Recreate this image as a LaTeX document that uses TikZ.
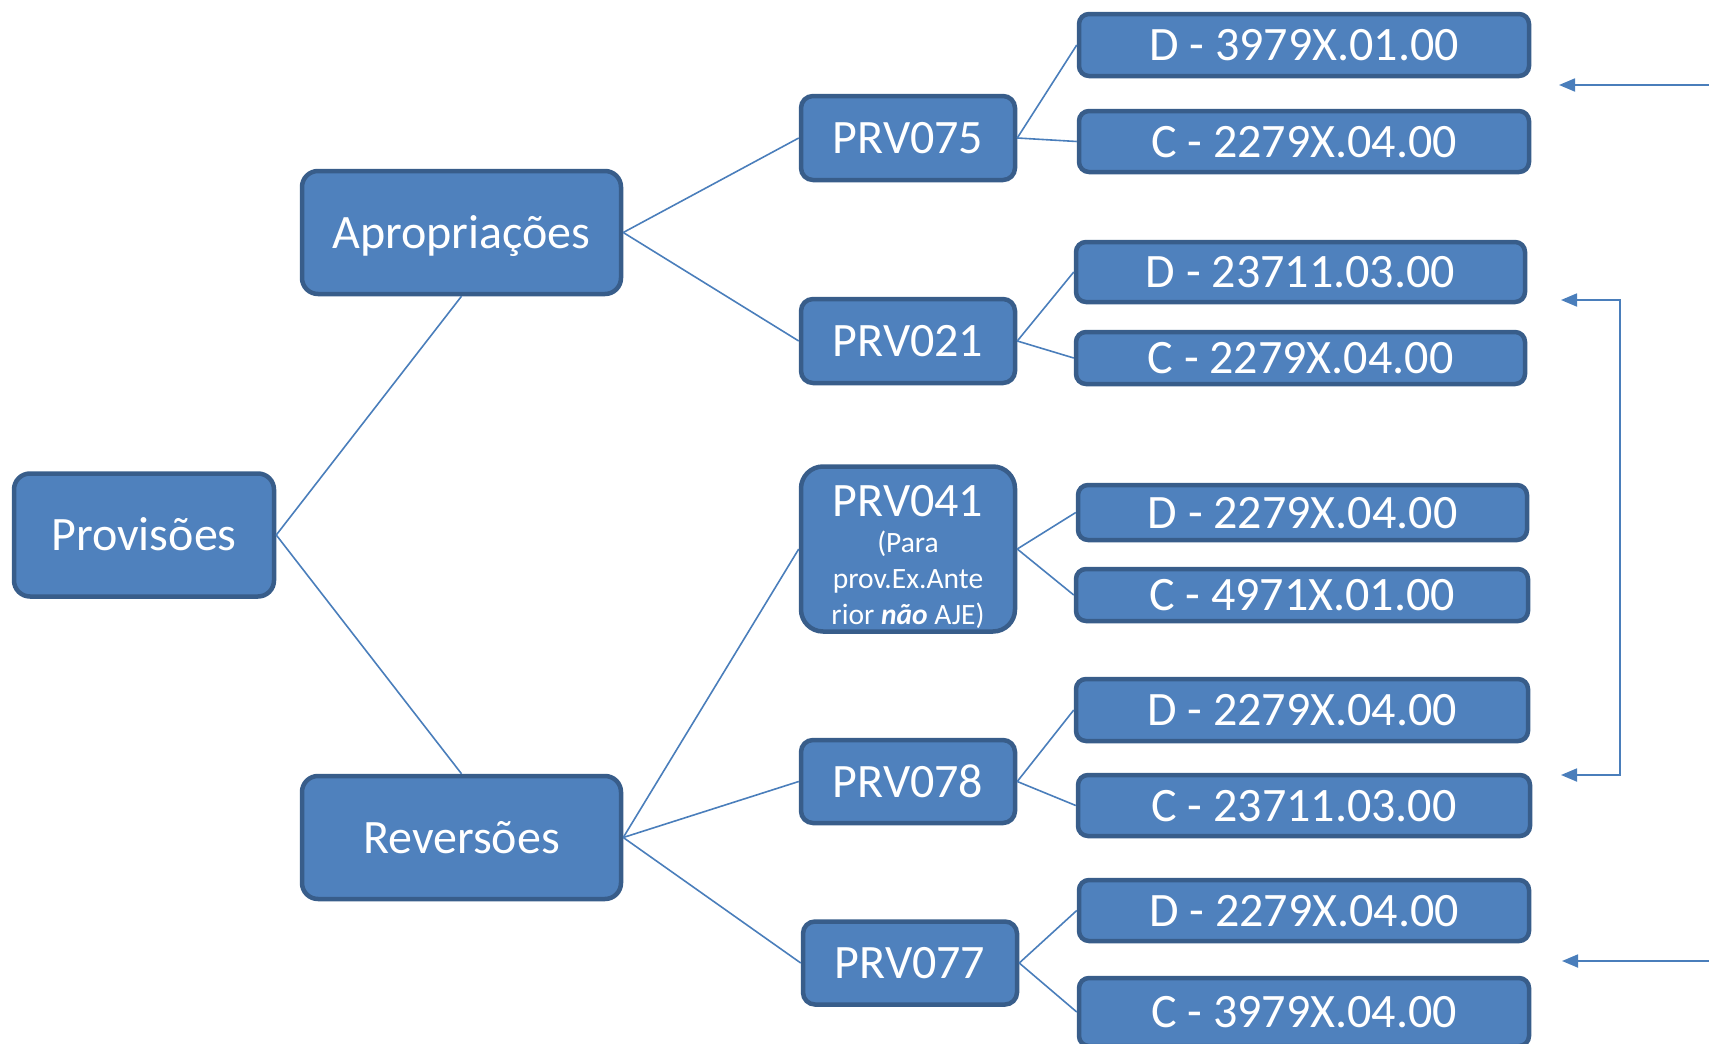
\documentclass[tikz,border=0pt]{standalone}
\usepackage{fontspec}
\setmainfont{Carlito}
\usetikzlibrary{arrows.meta}
\definecolor{boxfill}{HTML}{4F81BD}
\definecolor{boxdraw}{HTML}{385D8A}
\definecolor{linec}{HTML}{4A7EBB}
\newcommand{\smallfnt}{\fontsize{29.5}{36}\selectfont}
\newcommand{\bigfnt}{\fontsize{48}{52}\selectfont}
\begin{document}
\begin{tikzpicture}[x=1pt,y=-1pt,
  bx/.style={draw=boxdraw,fill=boxfill,line width=4.5pt,rounded corners=16pt,text=white,inner sep=0pt,
    font=\bigfnt,text height=38pt,text depth=7pt},
  acct/.style={bx,rounded corners=10pt},
  conn/.style={draw=linec,line width=1.6pt},
  arr/.style={draw=linec,line width=1.8pt,-{Triangle[length=16pt,width=13pt]}}]
\useasboundingbox (0,0) rectangle (1709,1044);
% main nodes
\node[bx,minimum width=260pt,minimum height=123pt] (prov) at (144,535) {Provisões};
\node[bx,minimum width=319pt,minimum height=123pt] (aprop) at (461.5,232.5) {Apropriações};
\node[bx,minimum width=319pt,minimum height=123pt] (rev) at (461.5,837.5) {Reversões};
\node[bx,rounded corners=12pt,minimum width=214pt,minimum height=84pt] (p075) at (908,138) {PRV075};
\node[bx,rounded corners=12pt,minimum width=214pt,minimum height=84pt] (p021) at (908,341) {PRV021};
\node[bx,rounded corners=22pt,minimum width=214pt,minimum height=165pt,align=center,
  font=\smallfnt,text height=,text depth=] (p041) at (908,549)
  {\rule{0pt}{47pt}{\bigfnt PRV041}\\(Para\\prov.Ex.Ante\\rior \textbf{\textit{não}} AJE)};
\node[bx,rounded corners=12pt,minimum width=214pt,minimum height=83pt] (p078) at (908,781.5) {PRV078};
\node[bx,rounded corners=12pt,minimum width=214pt,minimum height=83pt] (p077) at (910,963) {PRV077};
% account nodes
\node[acct,minimum width=450pt,minimum height=62pt] (r1) at (1304,45) {D - 3979X.01.00};
\node[acct,minimum width=450pt,minimum height=61pt] (r2) at (1304,141.5) {C - 2279X.04.00};
\node[acct,minimum width=449pt,minimum height=60pt] (r3) at (1300.5,272) {D - 23711.03.00};
\node[acct,minimum width=449pt,minimum height=52pt] (r4) at (1300.5,358) {C - 2279X.04.00};
\node[acct,minimum width=449pt,minimum height=55pt] (r5) at (1302.5,512.5) {D - 2279X.04.00};
\node[acct,minimum width=452pt,minimum height=52pt] (r6) at (1302,595) {C - 4971X.01.00};
\node[acct,minimum width=452pt,minimum height=62pt] (r7) at (1302,710) {D - 2279X.04.00};
\node[acct,minimum width=452pt,minimum height=61pt] (r8) at (1304,805.5) {C - 23711.03.00};
\node[acct,minimum width=450pt,minimum height=61pt] (r9) at (1304,910.5) {D - 2279X.04.00};
\node[acct,minimum width=450pt,minimum height=68pt] (r10) at (1304,1012) {C - 3979X.04.00};
% connectors
\draw[conn] (prov.east) -- (aprop.south);
\draw[conn] (prov.east) -- (rev.north);
\draw[conn] (aprop.east) -- (p075.west);
\draw[conn] (aprop.east) -- (p021.west);
\draw[conn] (rev.east) -- (p041.west);
\draw[conn] (rev.east) -- (p078.west);
\draw[conn] (rev.east) -- (p077.west);
\draw[conn] (p075.east) -- (r1.west);
\draw[conn] (p075.east) -- (r2.west);
\draw[conn] (p021.east) -- (r3.west);
\draw[conn] (p021.east) -- (r4.west);
\draw[conn] (p041.east) -- (r5.west);
\draw[conn] (p041.east) -- (r6.west);
\draw[conn] (p078.east) -- (r7.west);
\draw[conn] (p078.east) -- (r8.west);
\draw[conn] (p077.east) -- (r9.west);
\draw[conn] (p077.east) -- (r10.west);
% arrows
\coordinate (a1s) at (1709,85);
\coordinate (a1e) at (1559,85);
\coordinate (b1) at (1561,300);
\coordinate (b2) at (1620,300);
\coordinate (b3) at (1620,775);
\coordinate (b4) at (1561,775);
\coordinate (a3s) at (1709,961);
\coordinate (a3e) at (1562,961);
\draw[arr] (a1s) -- (a1e);
\draw[arr,{Triangle[length=16pt,width=13pt]}-{Triangle[length=16pt,width=13pt]}] (b1) -- (b2) -- (b3) -- (b4);
\draw[arr] (a3s) -- (a3e);
\end{tikzpicture}
\end{document}
